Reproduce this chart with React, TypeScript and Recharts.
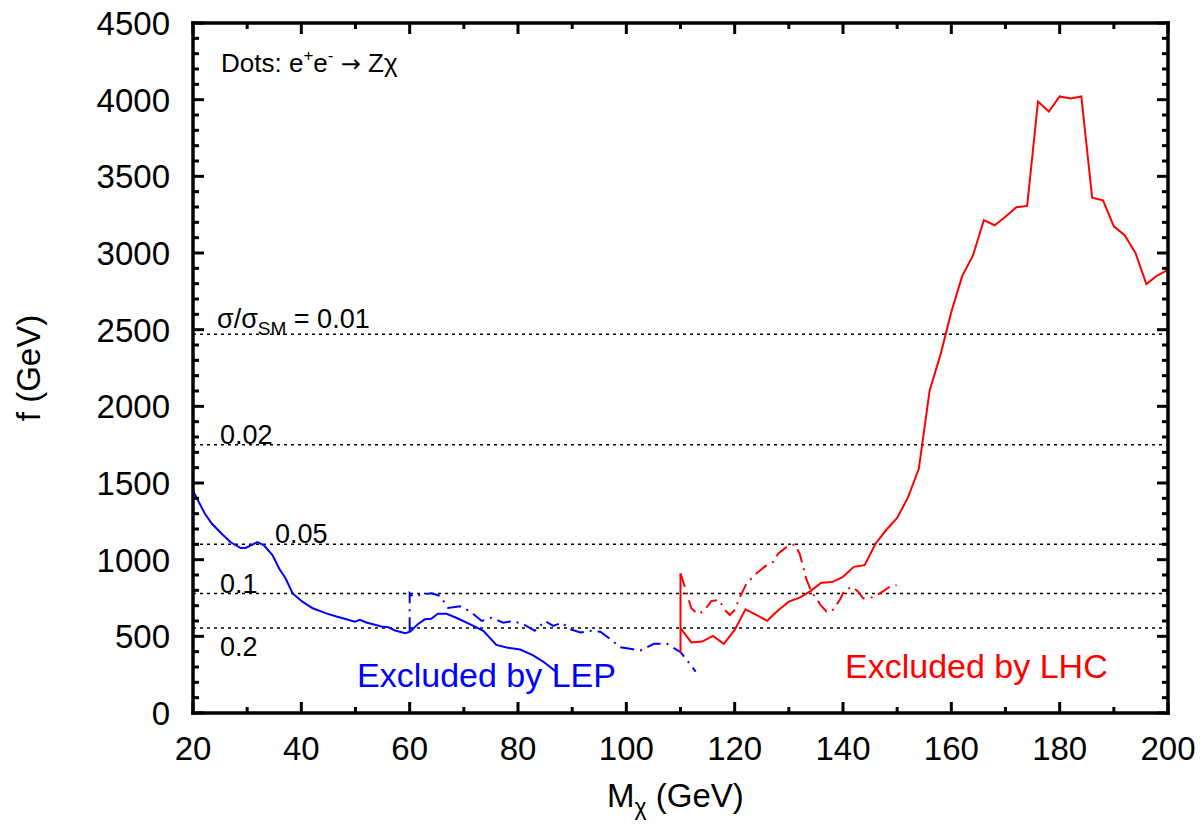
import React from "react";
import { LineChart, Line, XAxis, YAxis, ReferenceLine } from "recharts";

// ---- data ----
const lepX = [20, 22.2, 23.5, 25.3, 26.9, 28.8, 29.7, 31.9, 33.1, 34.7, 35.9, 37.1, 38.4, 40.2, 42.1, 44.6, 46.5, 48.3, 49.9, 50.8, 52.0, 54.8, 56.1, 57.3, 59.2, 60.1, 61.5, 62.8, 64.0, 65.2, 66.8, 68.6, 71.1, 73.6, 76.0, 77.9, 80.4, 82.8, 84.7, 87.2];
const lepF = [1450, 1299, 1234, 1169, 1115, 1076, 1076, 1115, 1094, 1029, 942, 877, 780, 726, 683, 650, 629, 611, 596, 607, 590, 564, 559, 538, 521, 531, 579, 611, 615, 647, 647, 621, 579, 536, 444, 427, 414, 376, 334, 265];

const lepDotsX = [60, 60, 60.6, 61.9, 64.0, 65.6, 67.1, 69.3, 71.1, 73.3, 75.1, 77.3, 79.1, 81.0, 83.1, 85.0, 86.5, 88.1, 89.6, 91.5, 93.3, 95.2, 97.0, 98.9, 100.7, 102.6, 105.1, 107.5, 110.0, 111.2, 112.8];
const lepDotsF = [533, 781, 760, 770, 781, 764, 685, 696, 664, 600, 621, 589, 600, 579, 536, 600, 568, 589, 547, 525, 536, 530, 483, 429, 419, 408, 451, 451, 397, 344, 270];

const lhcX = [110, 112, 114, 116, 118, 120, 122, 124, 126, 128, 130, 132, 134, 136, 138, 140, 142, 144, 146, 148, 150, 152, 154, 156, 158, 160, 162, 164, 166, 168, 170, 172, 174, 176, 178, 180, 182, 184, 186, 188, 190, 192, 194, 196, 198, 200];
const lhcF = [553, 460, 466, 503, 451, 542, 676, 640, 601, 668, 726, 752, 795, 849, 854, 888, 953, 964, 1104, 1195, 1272, 1406, 1593, 2104, 2337, 2616, 2849, 2984, 3214, 3181, 3237, 3298, 3307, 3988, 3923, 4021, 4007, 4021, 3360, 3344, 3174, 3116, 3000, 2797, 2853, 2890];

const lhcEdgeX = [110, 110];
const lhcEdgeF = [391, 910];

const lhcDotsX = [110, 110.8, 112.0, 113.1, 114.2, 115.7, 117.1, 118.2, 119.1, 120.0, 121.0, 122.2, 124.0, 125.9, 127.1, 128.0, 129.6, 131.1, 132.0, 133.3, 134.2, 136.0, 137.0, 137.9, 139.4, 140.3, 141.8, 142.8, 143.7, 145.3, 146.8, 148.6, 149.9];
const lhcDotsF = [910, 823, 683, 646, 661, 730, 737, 672, 639, 672, 758, 845, 910, 964, 985, 1039, 1083, 1100, 1039, 866, 791, 698, 661, 661, 737, 802, 823, 791, 748, 754, 780, 823, 834];

const sigmaRatio = ["0.01", "0.02", "0.05", "0.1", "0.2"];
const sigmaF = [2470, 1750, 1100, 780, 555];

const xTicks = [20, 30, 40, 50, 60, 70, 80, 90, 100, 110, 120, 130, 140, 150, 160, 170, 180, 190, 200];
const yTicks = [0, 100, 200, 300, 400, 500, 600, 700, 800, 900, 1000, 1100, 1200, 1300, 1400, 1500, 1600, 1700, 1800, 1900, 2000, 2100, 2200, 2300, 2400, 2500, 2600, 2700, 2800, 2900, 3000, 3100, 3200, 3300, 3400, 3500, 3600, 3700, 3800, 3900, 4000, 4100, 4200, 4300, 4400, 4500];

const toPoints = (xs: number[], fs: number[]) => xs.map((x, i) => ({ x, f: fs[i] }));

// ---- layout ----
const W = 1204;
const H = 825;
const PLOT = { left: 193, right: 1168, top: 23, bottom: 713 };
const AXIS_BOTTOM_H = 40;
const AXIS_LEFT_W = 60;
const AXIS_THIN = 2;
const FONT = '"Liberation Sans", Arial, Helvetica, sans-serif';
const MAJOR = 11;
const MINOR = 6;
const TICK_W = 3;

// label placement for the sigma lines (offsets from the line's left end)
const sigmaLabelPos = [
  { dx: 24, dy: -6 },
  { dx: 27, dy: -1 },
  { dx: 82, dy: -1 },
  { dx: 27, dy: 0 },
  { dx: 27, dy: 28 },
];

const BottomTick = (props: any) => {
  const { x, payload } = props;
  const major = payload.value % 20 === 0;
  return (
    <g>
      <line x1={x} x2={x} y1={PLOT.bottom} y2={PLOT.bottom - (major ? MAJOR : MINOR)} stroke="#000" strokeWidth={TICK_W} />
      {major && (
        <text x={x} y={PLOT.bottom + 47} textAnchor="middle" fontSize={33} fontFamily={FONT} fill="#000">
          {payload.value}
        </text>
      )}
    </g>
  );
};

const TopTick = (props: any) => {
  const { x, payload } = props;
  const major = payload.value % 20 === 0;
  return <line x1={x} x2={x} y1={PLOT.top} y2={PLOT.top + (major ? MAJOR : MINOR)} stroke="#000" strokeWidth={TICK_W} />;
};

const LeftTick = (props: any) => {
  const { y, payload } = props;
  const major = payload.value % 500 === 0;
  return (
    <g>
      <line x1={PLOT.left} x2={PLOT.left + (major ? MAJOR : MINOR)} y1={y} y2={y} stroke="#000" strokeWidth={TICK_W} />
      {major && (
        <text x={PLOT.left - 23} y={y} dy="0.36em" textAnchor="end" fontSize={33} fontFamily={FONT} fill="#000">
          {payload.value}
        </text>
      )}
    </g>
  );
};

const RightTick = (props: any) => {
  const { y, payload } = props;
  const major = payload.value % 500 === 0;
  return <line x1={PLOT.right} x2={PLOT.right - (major ? MAJOR : MINOR)} y1={y} y2={y} stroke="#000" strokeWidth={TICK_W} />;
};

const sigmaLabel = (i: number) => (props: any) => {
  const vb = props.viewBox || {};
  const { dx, dy } = sigmaLabelPos[i];
  const x = (vb.x ?? PLOT.left) + dx;
  const y = (vb.y ?? 0) + dy;
  if (i === 0) {
    return (
      <text x={x} y={y} fontSize={27} fontFamily={FONT} fill="#000">
        <tspan>σ/σ</tspan>
        <tspan fontSize={19} dy={7}>SM</tspan>
        <tspan dy={-7}>{" = " + sigmaRatio[i]}</tspan>
      </text>
    );
  }
  return (
    <text x={x} y={y} fontSize={27} fontFamily={FONT} fill="#000">
      {sigmaRatio[i]}
    </text>
  );
};

const frameLine = { stroke: "#000", strokeWidth: 3.5, strokeLinecap: "square" as const };

export default function App() {
  return (
    <div style={{ position: "absolute", left: 0, top: 0, width: W, height: H, background: "#fff", fontFamily: FONT }}>
      <LineChart
        width={W}
        height={H}
        margin={{
          top: PLOT.top - AXIS_THIN,
          right: W - PLOT.right - AXIS_THIN,
          bottom: H - PLOT.bottom - AXIS_BOTTOM_H,
          left: PLOT.left - AXIS_LEFT_W,
        }}
      >
        <XAxis
          type="number"
          dataKey="x"
          domain={[20, 200]}
          ticks={xTicks}
          interval={0}
          height={AXIS_BOTTOM_H}
          axisLine={frameLine}
          tickLine={false}
          tick={<BottomTick />}
          allowDataOverflow
        />
        <XAxis
          xAxisId="top"
          orientation="top"
          type="number"
          dataKey="x"
          domain={[20, 200]}
          ticks={xTicks}
          interval={0}
          height={AXIS_THIN}
          axisLine={frameLine}
          tickLine={false}
          tick={<TopTick />}
          allowDataOverflow
        />
        <YAxis
          type="number"
          domain={[0, 4500]}
          ticks={yTicks}
          interval={0}
          width={AXIS_LEFT_W}
          axisLine={frameLine}
          tickLine={false}
          tick={<LeftTick />}
          allowDataOverflow
        />
        <YAxis
          yAxisId="right"
          orientation="right"
          type="number"
          domain={[0, 4500]}
          ticks={yTicks}
          interval={0}
          width={AXIS_THIN}
          axisLine={frameLine}
          tickLine={false}
          tick={<RightTick />}
          allowDataOverflow
        />

        {sigmaF.map((f, i) => (
          <ReferenceLine
            key={sigmaRatio[i]}
            y={f}
            stroke="#000"
            strokeWidth={1.5}
            strokeDasharray="3 4"
            label={sigmaLabel(i)}
          />
        ))}

        <Line data={toPoints(lepX, lepF)} dataKey="f" type="linear" stroke="#0000ff" strokeWidth={2} dot={false} isAnimationActive={false} />
        <Line data={toPoints(lepDotsX, lepDotsF)} dataKey="f" type="linear" stroke="#0000ff" strokeWidth={2} strokeDasharray="14 6 2 6" dot={false} isAnimationActive={false} />
        <Line data={toPoints(lhcEdgeX, lhcEdgeF)} dataKey="f" type="linear" stroke="#ff0000" strokeWidth={2} dot={false} isAnimationActive={false} />
        <Line data={toPoints(lhcDotsX, lhcDotsF)} dataKey="f" type="linear" stroke="#ff0000" strokeWidth={2} strokeDasharray="14 6 2 6" dot={false} isAnimationActive={false} />
        <Line data={toPoints(lhcX, lhcF)} dataKey="f" type="linear" stroke="#ff0000" strokeWidth={2} dot={false} isAnimationActive={false} />
      </LineChart>

      <svg width={W} height={H} style={{ position: "absolute", left: 0, top: 0, pointerEvents: "none" }}>
        <text x={221} y={72} fontSize={26} fontFamily={FONT} fill="#000">
          <tspan>Dots: e</tspan>
          <tspan fontSize={17} dy={-11}>+</tspan>
          <tspan dy={11}>e</tspan>
          <tspan fontSize={17} dy={-11}>-</tspan>
          <tspan dy={11}>{" "}</tspan>
          <tspan fontFamily='"DejaVu Sans", sans-serif' fontSize={24}>{"\u2192"}</tspan>
          <tspan>{" Z\u03c7"}</tspan>
        </text>
        <text x={357} y={687} fontSize={34} fontFamily={FONT} fill="#0000ff">Excluded by LEP</text>
        <text x={845} y={678} fontSize={34} fontFamily={FONT} fill="#ff0000">Excluded by LHC</text>
        <text x={607} y={807} fontSize={33} fontFamily={FONT} fill="#000">
          <tspan>M</tspan>
          <tspan fontSize={23} dy={8}>{"\u03c7"}</tspan>
          <tspan dy={-8}>{" (GeV)"}</tspan>
        </text>
        <text
          x={0}
          y={0}
          transform={`translate(40, ${(PLOT.top + PLOT.bottom) / 2}) rotate(-90)`}
          textAnchor="middle"
          fontSize={33}
          fontFamily={FONT}
          fill="#000"
        >
          f (GeV)
        </text>
      </svg>
    </div>
  );
}
